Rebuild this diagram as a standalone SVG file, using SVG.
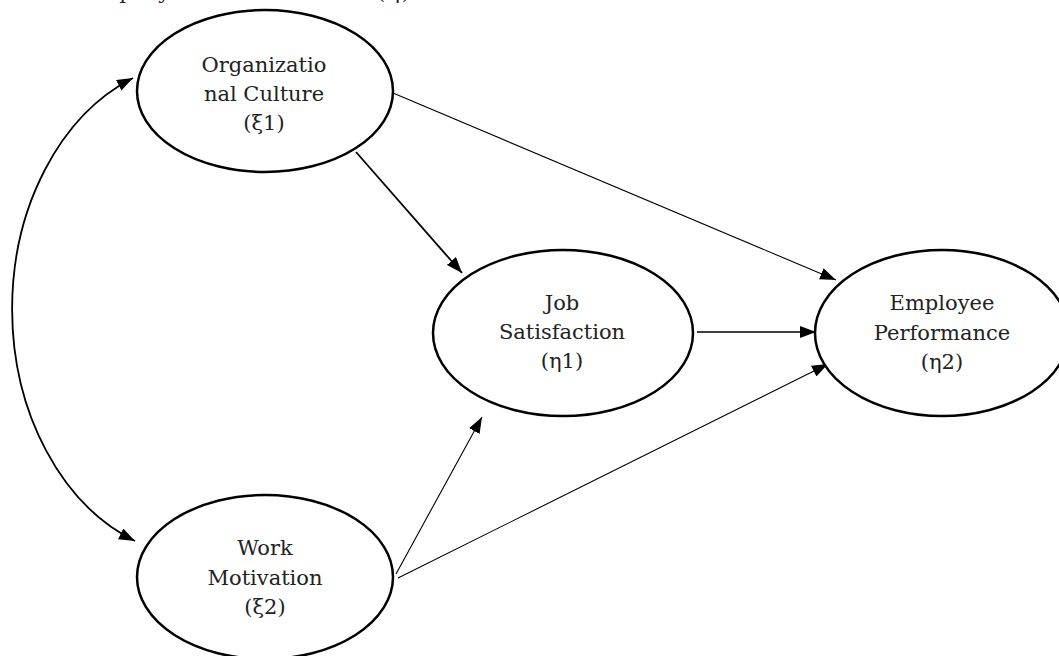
<svg xmlns="http://www.w3.org/2000/svg" width="1059" height="656" viewBox="0 0 1059 656">
<style>
.node ellipse{fill:#fff;stroke:#000;stroke-width:2.5}
.node text{font-family:"DejaVu Serif","Liberation Serif",serif;font-size:21px;fill:#222;text-anchor:middle}
.cap{font-family:"DejaVu Serif","Liberation Serif",serif;font-size:21px;fill:#222}
#connectors path{fill:none;stroke:#000}
</style>
<defs>
<marker id="ah" viewBox="0 0 16 12" refX="16" refY="6" markerWidth="16" markerHeight="12" markerUnits="userSpaceOnUse" orient="auto-start-reverse">
<path d="M0,0 L16,6 L0,12 z" fill="#000"/>
</marker>
</defs>
<rect width="1059" height="656" fill="#fff"/>
<text class="cap" x="80" y="-1" textLength="330">Employee Performance (η)</text>
<g id="connectors">
<path d="M133 78 A190 248 0 0 0 135 541" stroke-width="1.8" marker-start="url(#ah)" marker-end="url(#ah)"/>
<path d="M356 152 L462 273" stroke-width="1.8" marker-end="url(#ah)"/>
<path d="M393 93 L836 280" stroke-width="1.1" marker-end="url(#ah)"/>
<path d="M697 332 L816 332" stroke-width="1.5" marker-end="url(#ah)"/>
<path d="M396 574 L482 417" stroke-width="1.1" marker-end="url(#ah)"/>
<path d="M398 578 L828 364" stroke-width="1.1" marker-end="url(#ah)"/>
</g>
<g id="org-culture" class="node">
<ellipse cx="265" cy="91" rx="128" ry="81"/>
<text x="264" y="72">Organizatio</text>
<text x="264" y="101">nal Culture</text>
<text x="264" y="130">(ξ1)</text>
</g>
<g id="work-motivation" class="node">
<ellipse cx="265" cy="577" rx="128" ry="82"/>
<text x="265" y="555">Work</text>
<text x="265" y="585">Motivation</text>
<text x="265" y="614">(ξ2)</text>
</g>
<g id="job-satisfaction" class="node">
<ellipse cx="563" cy="333" rx="130" ry="83"/>
<text x="562" y="310">Job</text>
<text x="562" y="339">Satisfaction</text>
<text x="562" y="368">(η1)</text>
</g>
<g id="employee-performance" class="node">
<ellipse cx="942" cy="333" rx="127" ry="83"/>
<text x="942" y="310">Employee</text>
<text x="942" y="340">Performance</text>
<text x="942" y="369">(η2)</text>
</g>
</svg>
